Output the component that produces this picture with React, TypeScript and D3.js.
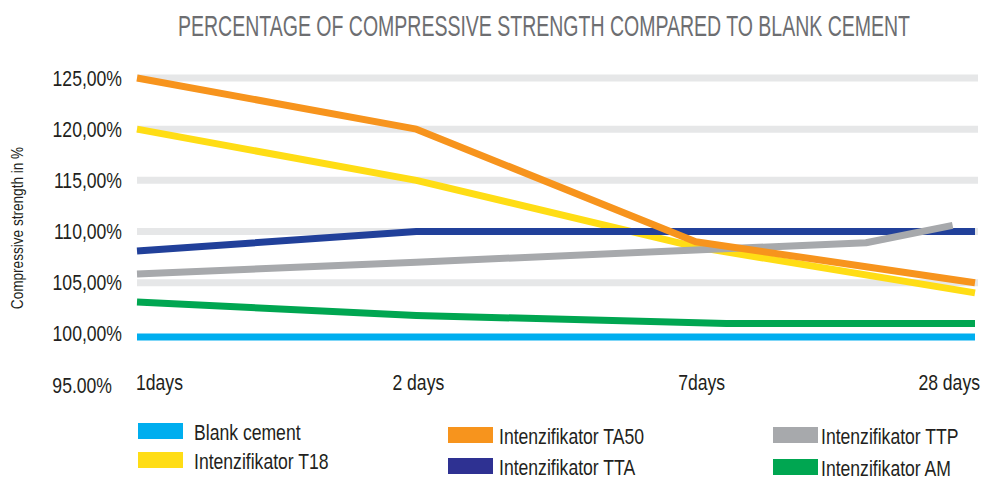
import React from 'react';
import { scaleLinear, line } from 'd3';

// categories on the x axis
const days = ['1days', '2 days', '7days', '28 days'];
// y tick values / labels
const yTicks = [125, 120, 115, 110, 105, 100, 95];
const yTickLabels = ['125,00%', '120,00%', '115,00%', '110,00%', '105,00%', '100,00%', '95.00%'];
const gridValues = [125, 120, 115, 110, 105];

// series: position is the index along the days axis
const blankPos = [0, 1, 2, 3];
const blankVals = [99.7, 99.7, 99.7, 99.7];
const t18Pos = [0, 1, 2, 3];
const t18Vals = [120, 115, 108.5, 104];
const ta50Pos = [0, 1, 2, 3];
const ta50Vals = [125, 120, 109, 105];
const ttaPos = [0, 1, 2, 3];
const ttaVals = [108.1, 110, 110, 110];
const ttpPos = [0, 1, 2, 2.61, 2.92];
const ttpVals = [105.85, 107, 108.2, 108.9, 110.6];
const amPos = [0, 1, 2.11, 3];
const amVals = [103.1, 101.8, 101, 101];

const seriesNames = [
  'Blank cement',
  'Intenzifikator T18',
  'Intenzifikator TA50',
  'Intenzifikator TTA',
  'Intenzifikator TTP',
  'Intenzifikator AM'
];

const width = 983;
const height = 477;
const font = '"Liberation Sans", Arial, sans-serif';
const SX = 0.8; // fake a condensed face

const colors = {
  blank: '#00aeef',
  t18: '#ffdd15',
  ta50: '#f7941d',
  tta: '#21409a',
  ttp: '#a7a9ac',
  am: '#00a651'
};

const zip = (pos: number[], vals: number[]) => pos.map((p, i) => ({ p, v: vals[i] }));

// drawing order matters: orange on top
const series = [
  { key: 'blank', data: zip(blankPos, blankVals), color: colors.blank },
  { key: 'am', data: zip(amPos, amVals), color: colors.am },
  { key: 't18', data: zip(t18Pos, t18Vals), color: colors.t18 },
  { key: 'tta', data: zip(ttaPos, ttaVals), color: colors.tta },
  { key: 'ttp', data: zip(ttpPos, ttpVals), color: colors.ttp },
  { key: 'ta50', data: zip(ta50Pos, ta50Vals), color: colors.ta50 }
];

// legend layout
const legendColors = [colors.blank, colors.t18, colors.ta50, '#2e3192', colors.ttp, colors.am];
const legendX = [138, 138, 448, 448, 773, 773];
const legendY = [423, 452, 427, 458, 427, 459];
const legendTextX = [194, 194, 499, 499, 821, 821];

const CText = ({ x, y, size, anchor = 'start', rotate = 0, children }: any) => (
  <text
    transform={`translate(${x},${y}) rotate(${rotate}) scale(${SX},1)`}
    textAnchor={anchor}
    fontFamily={font}
    fontSize={size}
    fill="#231f20"
  >
    {children}
  </text>
);

const App = () => {
  const x = scaleLinear().domain([0, 3]).range([137, 975]);
  const y = scaleLinear().domain([95, 125]).range([385, 78]);

  const lineGen = line<{ p: number; v: number }>()
    .x(d => x(d.p))
    .y(d => y(d.v));

  const dayAnchor = ['start', 'middle', 'middle', 'end'];
  const dayX = [x(0) - 1, x(1) + 2, x(2) + 6, x(3) + 5];

  return (
    <svg width={width} height={height} style={{ position: 'absolute', left: 0, top: 0 }}>
      <rect width={width} height={height} fill="#fff" />
      <text
        x={178}
        y={36}
        fontFamily={font}
        fontSize={30}
        fill="#6d6e71"
        textLength={732}
        lengthAdjust="spacingAndGlyphs"
      >
        PERCENTAGE OF COMPRESSIVE STRENGTH COMPARED TO BLANK CEMENT
      </text>

      {/* gridlines */}
      {gridValues.map(v => (
        <line key={v} x1={x(0)} x2={x(3) + 3} y1={y(v)} y2={y(v)} stroke="#e6e7e8" strokeWidth={7} />
      ))}

      {/* y labels */}
      {yTicks.map((v, i) => (
        <CText key={v} x={v === 95 ? 112 : 122} y={y(v) + 7.5} size={22} anchor="end">
          {yTickLabels[i]}
        </CText>
      ))}

      <CText x={23} y={228} size={17} anchor="middle" rotate={-90}>
        Compressive strength in %
      </CText>

      {/* lines */}
      {series.map(s => (
        <path
          key={s.key}
          d={lineGen(s.data) || ''}
          fill="none"
          stroke={s.color}
          strokeWidth={7}
          strokeLinejoin="round"
        />
      ))}

      {/* x labels */}
      {days.map((d, i) => (
        <CText key={d} x={dayX[i]} y={390} size={22} anchor={dayAnchor[i]}>
          {d}
        </CText>
      ))}

      {/* legend */}
      {seriesNames.map((name, i) => (
        <g key={name}>
          <rect x={legendX[i]} y={legendY[i]} width={45} height={16} fill={legendColors[i]} />
          <CText x={legendTextX[i]} y={legendY[i] + 17} size={22}>
            {name}
          </CText>
        </g>
      ))}
    </svg>
  );
};

export default App;
